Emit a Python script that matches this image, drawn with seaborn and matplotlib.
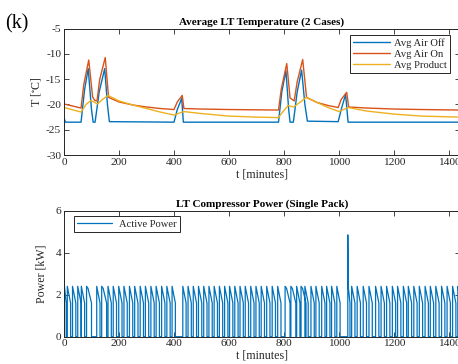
import numpy as np
import pandas as pd
import matplotlib
matplotlib.use("Agg")
import matplotlib.pyplot as plt
import seaborn as sns

# ---------------- data ----------------
t_air_off = [0, 5, 62, 75, 88, 100, 106, 113, 128, 148, 158, 165, 400, 412, 428, 434,
             780, 792, 807, 817, 822, 834, 848, 864, 876, 885, 997, 1008, 1024, 1033, 1440]
air_off = [-22.6, -23.5, -23.5, -17.0, -12.9, -21.0, -23.5, -23.5, -17.5, -12.9, -20.0, -23.4,
           -23.5, -21.0, -18.8, -23.5, -23.5, -17.5, -13.3, -21.0, -23.5, -23.5, -17.5, -13.2,
           -20.0, -23.3, -23.4, -21.0, -18.0, -23.5, -23.5]

t_air_on = [0, 62, 72, 90, 104, 112, 120, 130, 150, 162, 200, 250, 300, 350, 400, 412, 430,
            436, 500, 600, 780, 790, 810, 822, 837, 848, 868, 882, 920, 960, 997, 1008, 1028,
            1035, 1100, 1200, 1300, 1440]
air_on = [-19.9, -20.7, -16.0, -11.2, -18.5, -19.2, -19.3, -15.0, -10.7, -18.6, -19.5, -20.1,
          -20.5, -20.8, -21.0, -19.5, -18.2, -20.8, -20.9, -21.0, -21.1, -17.0, -11.9, -18.7,
          -19.3, -15.5, -11.1, -18.6, -19.6, -20.2, -20.6, -19.0, -17.6, -20.5, -20.7, -20.9,
          -21.0, -21.1]

t_product = [0, 62, 80, 98, 122, 140, 160, 200, 250, 300, 350, 400, 435, 500, 600, 700, 780,
             795, 815, 835, 860, 880, 920, 960, 1000, 1033, 1100, 1200, 1300, 1440]
product = [-20.6, -21.5, -20.0, -19.2, -19.9, -19.0, -18.2, -19.3, -20.1, -20.8, -21.5, -22.1,
           -21.4, -21.8, -22.3, -22.5, -22.6, -21.5, -20.2, -20.5, -19.5, -18.6, -19.6, -20.6,
           -21.4, -20.6, -21.3, -21.9, -22.3, -22.5]

# compressor cycles: start times of each on-period (minutes)
pulse_on = [0, 12, 31, 50, 63, 82, 119, 137, 160, 179, 199, 218, 238, 257, 277, 296, 316,
            335, 355, 374, 393, 432, 451, 470, 489, 508, 527, 546, 565, 584, 602, 621, 640,
            659, 679, 698, 717, 737, 757, 777, 804, 825, 846, 862, 876, 898, 916, 937, 955,
            973, 992, 1032, 1046, 1066, 1088, 1109, 1133, 1153, 1173, 1194, 1213, 1234, 1252,
            1272, 1292, 1313, 1332, 1352, 1373, 1393, 1413, 1432]
long_pulses = [82, 137, 804, 825, 862]      # slower, curved decline after defrost
spike_t = [0, 1032]
spike_p = [4.5, 4.85]
p_high = 2.4
p_low = 1.6
on_minutes = 12
long_minutes = 18

# ---------------- build the power waveform from the cycle list ----------------
pt, pp = [], []
for s in pulse_on:
    if s in spike_t:
        peak = spike_p[spike_t.index(s)]
        xs = [s, s, s + 1.5, s + 8, s + 8]
        ys = [0, peak, p_high, p_low, 0]
    elif s in long_pulses:
        d = long_minutes
        xs = [s, s, s + d * 0.3, s + d * 0.6, s + d, s + d]
        ys = [0, p_high, p_high - 0.1, p_high - 0.4, p_low, 0]
    else:
        d = on_minutes
        xs = [s, s, s + d, s + d]
        ys = [0, p_high, p_low, 0]
    pt += xs
    pp += ys
pt.append(1440)
pp.append(0)
power_df = pd.DataFrame({"t": pt, "p": pp})

temp_df = pd.concat([
    pd.DataFrame({"t": t_air_off, "T": air_off, "series": "Avg Air Off"}),
    pd.DataFrame({"t": t_air_on, "T": air_on, "series": "Avg Air On"}),
    pd.DataFrame({"t": t_product, "T": product, "series": "Avg Product"}),
], ignore_index=True)

# ---------------- style ----------------
sns.set_style("ticks")
plt.rcParams["font.family"] = ["Liberation Serif", "DejaVu Serif"]
plt.rcParams["mathtext.fontset"] = "stix"
plt.rcParams["axes.unicode_minus"] = False
plt.rcParams["axes.linewidth"] = 0.7
plt.rcParams["xtick.direction"] = "in"
plt.rcParams["ytick.direction"] = "in"
plt.rcParams["xtick.major.size"] = 3.5
plt.rcParams["ytick.major.size"] = 3.5
plt.rcParams["xtick.major.width"] = 0.6
plt.rcParams["ytick.major.width"] = 0.6

palette = {"Avg Air Off": "#0072BD", "Avg Air On": "#D95319", "Avg Product": "#EDB120"}
axcol = "#262626"

fig = plt.figure(figsize=(4.58, 3.64), dpi=100)
W, H = 458, 364
left = 64 / W
width = 396 / W
ax1 = fig.add_axes([left, (H - 155) / H, width, (155 - 28.7) / H])
ax2 = fig.add_axes([left, (H - 336.7) / H, width, (336.7 - 210.7) / H])

sns.lineplot(data=temp_df, x="t", y="T", hue="series", palette=palette, ax=ax1,
             estimator=None, sort=False, linewidth=1.0, legend=True)
sns.lineplot(data=power_df, x="t", y="p", ax=ax2, estimator=None, sort=False,
             color="#0072BD", linewidth=0.9, label="Active Power")

fs = 8.2
for ax in (ax1, ax2):
    ax.set_xlim(0, 1440)
    ax.set_xticks([0, 200, 400, 600, 800, 1000, 1200, 1400])
    ax.tick_params(top=True, right=True, labelsize=fs, colors=axcol, pad=2)
    for sp in ax.spines.values():
        sp.set_visible(True)
        sp.set_color(axcol)
    ax.set_xlabel("t [minutes]", fontsize=8.6, labelpad=1, color=axcol)

ax1.set_ylim(-30, -5)
ax1.set_yticks([-30, -25, -20, -15, -10, -5])
ax1.set_ylabel(r"T [$^{\circ}$C]", fontsize=8.6, labelpad=2, color=axcol)
ax1.set_title("Average LT Temperature (2 Cases)", fontsize=8.0, fontweight="bold",
              pad=3, color="black")

ax2.set_ylim(0, 6)
ax2.set_yticks([0, 2, 4, 6])
ax2.set_ylabel("Power [kW]", fontsize=8.6, labelpad=6, color=axcol)
ax2.set_title("LT Compressor Power (Single Pack)", fontsize=8.0, fontweight="bold",
              pad=3, color="black")

leg1 = ax1.legend(loc="upper right", bbox_to_anchor=(450 / W, 1 - 35 / H),
                  bbox_transform=fig.transFigure, fontsize=7.6, frameon=True,
                  fancybox=False, handlelength=3.5, borderpad=0.3, labelspacing=0.15,
                  handletextpad=0.4, borderaxespad=0)
leg1.get_frame().set_edgecolor(axcol)
leg1.get_frame().set_linewidth(0.7)
leg1.get_frame().set_alpha(1)
leg1.set_title(None)

leg2 = ax2.legend(loc="upper left", bbox_to_anchor=(74 / W, 1 - 216 / H),
                  bbox_transform=fig.transFigure, fontsize=7.6, frameon=True,
                  fancybox=False, handlelength=3.3, borderpad=0.3,
                  handletextpad=0.7, borderaxespad=0)
leg2.get_frame().set_edgecolor(axcol)
leg2.get_frame().set_linewidth(0.7)
leg2.get_frame().set_alpha(1)

fig.text(5 / W, 1 - 28 / H, "(k)", fontsize=14.5, color="black")

fig.savefig("out.png", dpi=100)
